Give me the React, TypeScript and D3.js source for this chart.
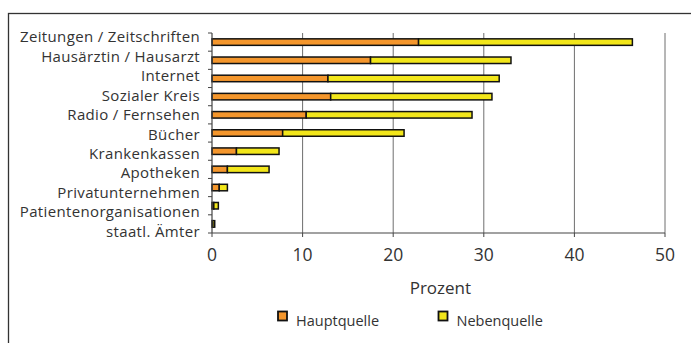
import React from "react";
import * as d3 from "d3";

const categories = [
  "Zeitungen / Zeitschriften",
  "Hausärztin / Hausarzt",
  "Internet",
  "Sozialer Kreis",
  "Radio / Fernsehen",
  "Bücher",
  "Krankenkassen",
  "Apotheken",
  "Privatunternehmen",
  "Patientenorganisationen",
  "staatl. Ämter",
];
const hauptquelle = [22.8, 17.5, 12.8, 13.1, 10.4, 7.8, 2.7, 1.7, 0.8, 0.2, 0.1];
const nebenquelle = [23.6, 15.5, 18.9, 17.8, 18.3, 13.4, 4.7, 4.6, 0.9, 0.5, 0.2];
const xTicks = [0, 10, 20, 30, 40, 50];
const seriesNames = ["Hauptquelle", "Nebenquelle"];

const ORANGE = "#F4962C";
const YELLOW = "#F2E61A";
const FONT = "'Open Sans', Lato, sans-serif";
const TEXT = "#333";

export default function App() {
  const W = 691, H = 343;
  const left = 212, right = 665, top = 33, bottom = 233;
  const x = d3.scaleLinear().domain([0, 50]).range([left, right]);
  const y = d3.scaleBand<string>().domain(categories).range([top, bottom]).padding(0);
  const labelY = d3.scalePoint<string>().domain(categories).range([42.3, 236.7]);
  const bw = y.bandwidth();
  const barH = 6.5;

  const bars = categories.map((c, i) => ({ c, h: hauptquelle[i], n: nebenquelle[i] }));

  return (
    <svg width={W} height={H} style={{ position: "absolute", left: 0, top: 0, background: "#fff" }}>
      <rect x={8.5} y={13.5} width={W + 10} height={H + 10} fill="none" stroke="#333" strokeWidth={1.3} />
      {xTicks.filter((t) => t > 0).map((t) => (
        <line key={"g" + t} x1={x(t)} x2={x(t)} y1={top} y2={bottom} stroke="#6e6e6e" strokeWidth={1} />
      ))}
      {bars.map((b) => {
        const yc = (y(b.c) as number) + bw / 2;
        return (
          <g key={b.c}>
            <rect x={x(0)} y={yc - barH / 2} width={x(b.h) - x(0)} height={barH} fill={ORANGE} stroke="#111" strokeWidth={1.5} />
            <rect x={x(b.h)} y={yc - barH / 2} width={x(b.h + b.n) - x(b.h)} height={barH} fill={YELLOW} stroke="#111" strokeWidth={1.5} />
          </g>
        );
      })}
      <line x1={left} x2={left} y1={top} y2={bottom} stroke="#444" strokeWidth={1.2} />
      {categories.map((c, i) => (
        <line key={"lt" + i} x1={left - 4} x2={left} y1={y(c) as number} y2={y(c) as number} stroke="#444" strokeWidth={1} />
      ))}
      <line x1={left - 4} x2={left} y1={bottom} y2={bottom} stroke="#444" strokeWidth={1} />
      {categories.map((c) => (
        <text key={"lab" + c} x={left - 12} y={labelY(c) as number} textAnchor="end" fontFamily={FONT} fontSize={15} letterSpacing={0.35} fill={TEXT}>
          {c}
        </text>
      ))}
      <line x1={left} x2={right} y1={bottom} y2={bottom} stroke="#444" strokeWidth={1.2} />
      {xTicks.map((t) => (
        <g key={"xt" + t}>
          <line x1={x(t)} x2={x(t)} y1={bottom} y2={bottom + 4} stroke="#444" strokeWidth={1} />
          <text x={x(t)} y={260.7} textAnchor="middle" fontFamily={FONT} fontSize={17.5} fill={TEXT}>
            {t}
          </text>
        </g>
      ))}
      <text x={440.4} y={294.3} textAnchor="middle" fontFamily={FONT} fontSize={17} fill={TEXT}>
        Prozent
      </text>
      {seriesNames.map((s, i) => {
        const lx = i === 0 ? 278 : 438.5;
        return (
          <g key={s}>
            <rect x={lx} y={311.5} width={9} height={9} fill={i === 0 ? ORANGE : YELLOW} stroke="#111" strokeWidth={1.8} />
            <text x={lx + 18} y={326} fontFamily={FONT} fontSize={14.5} fill={TEXT}>
              {s}
            </text>
          </g>
        );
      })}
    </svg>
  );
}
